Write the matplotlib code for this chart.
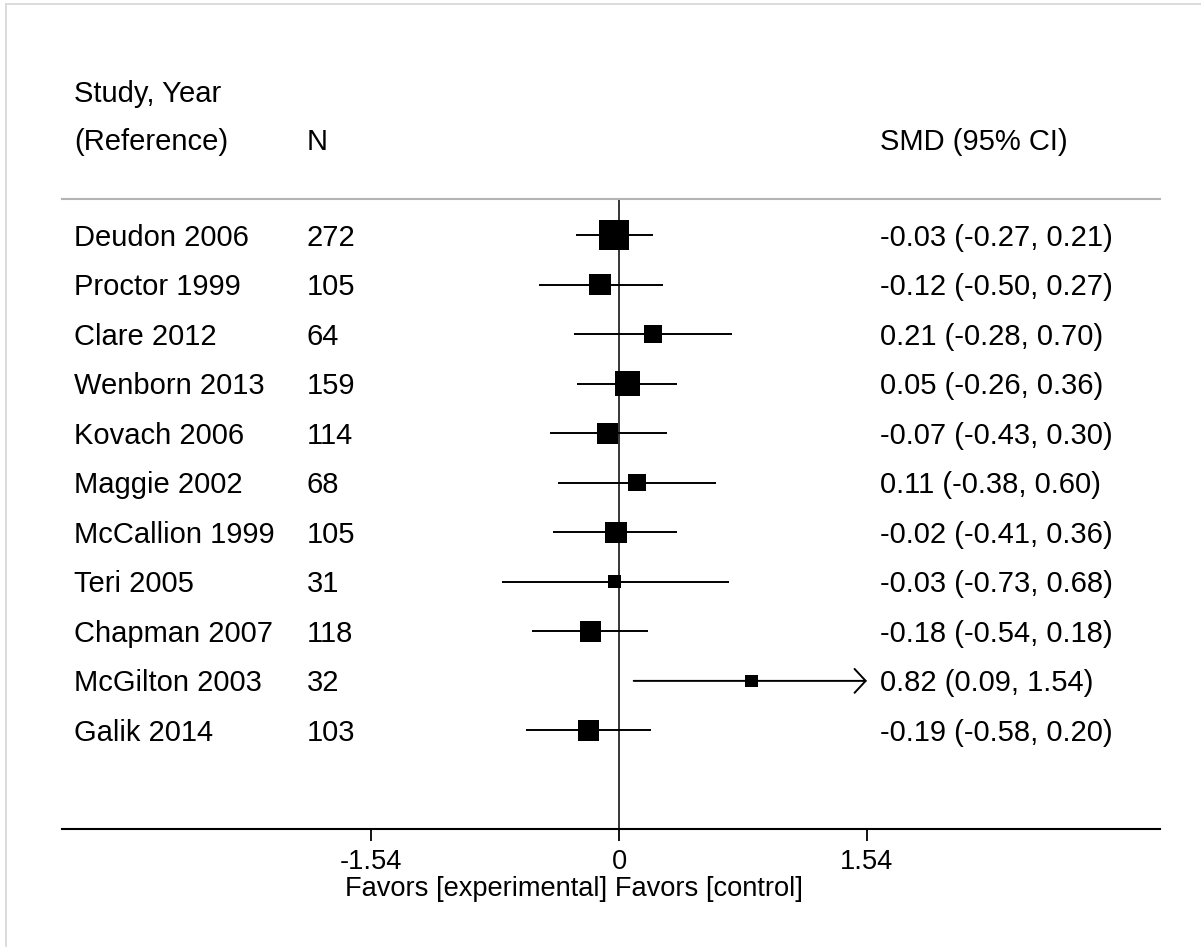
import numpy as np
import matplotlib.pyplot as plt
from matplotlib import transforms
from matplotlib.lines import Line2D

# ──────────────────────────────────────────────
# Data
# ──────────────────────────────────────────────
studies = ["Deudon 2006", "Proctor 1999", "Clare 2012", "Wenborn 2013",
           "Kovach 2006", "Maggie 2002", "McCallion 1999", "Teri 2005",
           "Chapman 2007", "McGilton 2003", "Galik 2014"]
n_total = [272, 105, 64, 159, 114, 68, 105, 31, 118, 32, 103]
smd     = [-0.03, -0.12, 0.21, 0.05, -0.07, 0.11, -0.02, -0.03, -0.18, 0.82, -0.19]
ci_low  = [-0.27, -0.50, -0.28, -0.26, -0.43, -0.38, -0.41, -0.73, -0.54, 0.09, -0.58]
ci_high = [0.21, 0.27, 0.70, 0.36, 0.30, 0.60, 0.36, 0.68, 0.18, 1.54, 0.20]
# study weights (%), used for box area
weights = [18.9, 9.9, 6.3, 13.5, 9.3, 6.3, 9.6, 3.4, 9.6, 3.4, 9.9]

xticks      = [-1.54, 0, 1.54]
xticklabels = ["-1.54", "0", "1.54"]
XMAX_SHOWN  = 1.54        # CIs reaching this get an arrow

# ──────────────────────────────────────────────
# Layout
# ──────────────────────────────────────────────
W, H = 1201, 947
FONT = "Liberation Sans"
FS_ROW = 21
FS_AX = 19.6

fig = plt.figure(figsize=(W / 100, H / 100), dpi=100)
ax = fig.add_axes([62 / W, 1 - 829 / H, 1098 / W, (829 - 199) / H])

rows = np.arange(len(studies))
ax.set_xlim(-3.463, 3.361)
ax.set_ylim(11.99, -0.727)

# zero line
ax.axvline(0, color="black", lw=1.1, zorder=1)

# confidence intervals
for y, lo, hi in zip(rows, ci_low, ci_high):
    if hi >= XMAX_SHOWN:
        ax.annotate("", xy=(hi, y), xytext=(lo, y),
                    arrowprops=dict(arrowstyle="->,head_length=0.4,head_width=0.43",
                                    color="black", lw=1.4, mutation_scale=20,
                                    shrinkA=0, shrinkB=0))
    else:
        ax.plot([lo, hi], [y, y], color="black", lw=1.4, solid_capstyle="butt", zorder=2)

# weighted boxes (side in px ~ sqrt(weight))
side_px = 6.9 * np.sqrt(weights)
ax.scatter(smd, rows, marker="s", s=(side_px * 0.72) ** 2, color="black",
           linewidths=0, zorder=3)

# spines / ticks
for s in ("left", "right"):
    ax.spines[s].set_visible(False)
ax.spines["top"].set_color("#b4b4b4")
ax.spines["top"].set_linewidth(1.5)
ax.spines["bottom"].set_linewidth(1.5)
ax.set_yticks([])
ax.set_xticks(xticks)
ax.set_xticklabels(xticklabels, fontsize=FS_AX, family=FONT)
ax.tick_params(axis="x", length=8.6, width=1.3, pad=5.5)
ax.set_xlabel("Favors [experimental] Favors [control]", fontsize=FS_AX,
              family=FONT, labelpad=-2)
ax.xaxis.set_label_coords(0.466, -0.075)

# ──────────────────────────────────────────────
# Text columns
# ──────────────────────────────────────────────
blend = transforms.blended_transform_factory(ax.transAxes, ax.transData)
# shift baseline down so cap height is centred on the row
txt_tr = transforms.offset_copy(blend, fig=fig, y=-7.6, units="points")

col_study = (74 - 62) / 1098
col_n = (306.5 - 62) / 1098
col_smd = (880 - 62) / 1098

kw = dict(transform=txt_tr, fontsize=FS_ROW, family=FONT, va="baseline",
          ha="left", clip_on=False)

ax.text(col_study, -2.9, "Study, Year", **kw)
ax.text(col_study, -1.93, "(Reference)", **kw)
ax.text(col_n, -1.93, "N", **kw)
ax.text(col_smd, -1.93, "SMD (95% CI)", **kw)

for y, name, n, m, lo, hi in zip(rows, studies, n_total, smd, ci_low, ci_high):
    ax.text(col_study, y, name, **kw)
    ax.text(col_n, y, str(n), **kw)
    ax.text(col_smd, y, f"{m:.2f} ({lo:.2f}, {hi:.2f})", **kw)

# thin frame on the top and left edges
fig.add_artist(Line2D([6 / W, 1], [1 - 4 / H, 1 - 4 / H], color="#d6d6d6", lw=1.2))
fig.add_artist(Line2D([6 / W, 6 / W], [0, 1 - 4 / H], color="#d6d6d6", lw=1.2))

fig.savefig("out.png", dpi=100)
